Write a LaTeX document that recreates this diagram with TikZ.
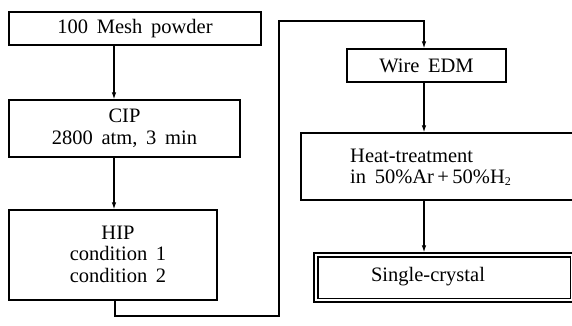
\documentclass[tikz,border=0pt]{standalone}
\usepackage{fontspec}
\setmainfont{Liberation Serif}[WordSpace=1.7]
\usetikzlibrary{arrows.meta}
\begin{document}
\begin{tikzpicture}[x=1pt,y=-1pt,
  box/.style={draw,line width=1.3pt,rectangle,inner sep=0pt,align=center,
    font=\fontsize{20.5}{21.5}\selectfont},
  txt/.style={inner sep=0pt,font=\fontsize{20.5}{21.5}\selectfont},
  conn/.style={line width=1.1pt},
  arr/.style={conn,-{Latex[length=7pt,width=4.5pt]}}]
\useasboundingbox (0,0) rectangle (572,325);
\clip (0,0) rectangle (572,325);
\coordinate (xl) at (114,0);
\coordinate (xr) at (424,0);
\coordinate (c1) at (279,316);
\coordinate (c2) at (279,21);
\node[box,minimum width=252pt,minimum height=33pt] (b1) at (135,28.5) {100 Mesh powder};
\node[box,minimum width=231pt,minimum height=57pt] (b2) at (124.5,128.5) {CIP\\2800 atm, 3 min};
\node[box,minimum width=208pt,minimum height=90pt] (b3) at (113,255) {};
\node[txt,align=center] (t3) at (118,254) {HIP\\condition 1\\condition 2};
\node[box,minimum width=159pt,minimum height=33pt] (w) at (426.5,65.5) {Wire EDM};
\node[box,minimum width=299pt,minimum height=67pt] (h) at (450.5,166.5) {};
\node[txt,align=left,anchor=west] (ht) at (350,167) {Heat-treatment\\in 50\%Ar\,+\,50\%H\raisebox{-0.15ex}{\fontsize{12}{12}\selectfont 2}};
\node[box,minimum width=260pt,minimum height=49pt] (sc) at (444,277.5) {};
\draw[line width=1.3pt] ([shift={(4.5,4.5)}]sc.north west) rectangle ([shift={(-4.5,-4.5)}]sc.south east);
\node[txt] (sct) at (428,277) {Single-crystal};
\draw[arr] (b1.south -| xl) -- (b2.north -| xl);
\draw[arr] (b2.south -| xl) -- (b3.north -| xl);
\draw[arr] ([xshift=1pt]b3.south -| xl) |- (c1) -- (c2) -| (w.north -| xr);
\draw[arr] (w.south -| xr) -- (h.north -| xr);
\draw[arr] (h.south -| xr) -- (sc.north -| xr);
\end{tikzpicture}
\end{document}
